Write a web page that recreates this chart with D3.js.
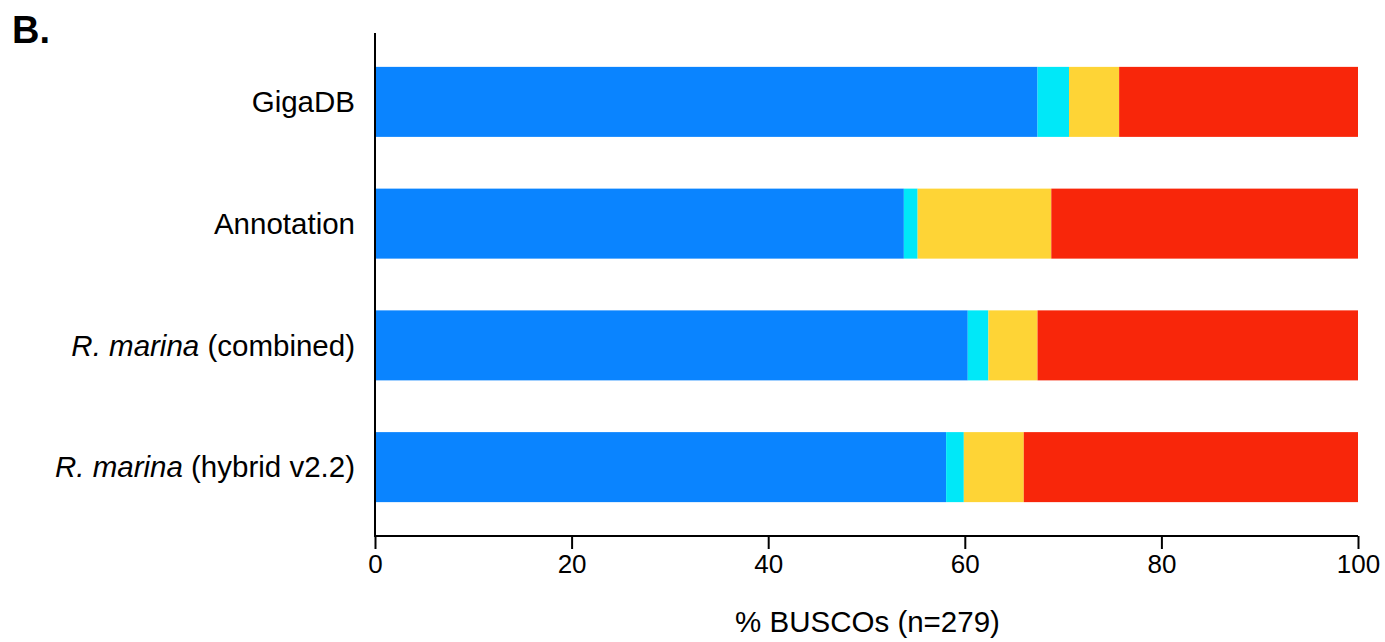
<!DOCTYPE html>
<html>
<head>
<meta charset="utf-8">
<script src="https://cdn.jsdelivr.net/npm/d3@7"></script>
<style>
  body { margin: 0; background: #fff; }
  svg text { font-family: "Liberation Sans", Arial, Helvetica, sans-serif; fill: #000; }
</style>
</head>
<body>
<div id="chart-area"></div>
<script>
// categories top to bottom; species name part is italic
const categories = ["GigaDB", "Annotation", "R. marina (combined)", "R. marina (hybrid v2.2)"];
const labelItalic = ["", "", "R. marina", "R. marina"];
const labelRest = ["GigaDB", "Annotation", " (combined)", " (hybrid v2.2)"];

// BUSCO percentages (n=279)
const completeSingle = [67.4, 53.8, 60.3, 58.1];
const completeDuplicated = [3.2, 1.4, 2.1, 1.8];
const fragmented = [5.1, 13.6, 5.0, 6.1];
const missing = [24.3, 31.2, 32.6, 34.0];

const seriesNames = ["single", "duplicated", "fragmented", "missing"];
const seriesColors = ["#0a84ff", "#00e8f8", "#fed436", "#f8260a"];
const xTicks = [0, 20, 40, 60, 80, 100];

const drawChart = () => {
  const chartSize = { width: 1385, height: 642 };
  const margin = { left: 375, right: 27, top: 33, bottom: 106 };
  const width = chartSize.width - margin.left - margin.right;
  const height = chartSize.height - margin.top - margin.bottom;

  const svg = d3.select("#chart-area")
    .append("svg")
    .attr("width", chartSize.width)
    .attr("height", chartSize.height);

  svg.append("text")
    .text("B.")
    .attr("x", 12)
    .attr("y", 43)
    .attr("font-size", 38)
    .attr("font-weight", "bold");

  const g = svg.append("g")
    .attr("transform", `translate(${margin.left}, ${margin.top})`);

  const x = d3.scaleLinear().domain([0, 100]).range([0, width]);
  const y = d3.scaleBand()
    .domain(categories)
    .range([8, 495])
    .paddingInner(0.425)
    .paddingOuter(0.2125);

  const table = categories.map((c, i) => ({
    name: c,
    single: completeSingle[i],
    duplicated: completeDuplicated[i],
    fragmented: fragmented[i],
    missing: missing[i],
  }));
  const stacked = d3.stack().keys(seriesNames)(table);

  g.selectAll(".series")
    .data(stacked)
    .enter()
    .append("g")
    .attr("class", "series")
    .attr("fill", (d, i) => seriesColors[i])
    .selectAll("rect")
    .data(d => d)
    .enter()
    .append("rect")
    .attr("x", d => x(d[0]))
    .attr("y", d => y(d.data.name))
    .attr("width", d => x(d[1]) - x(d[0]))
    .attr("height", y.bandwidth());

  // x axis
  const xAxis = d3.axisBottom(x)
    .tickValues(xTicks)
    .tickSize(13)
    .tickPadding(6)
    .tickSizeOuter(0);
  const xg = g.append("g")
    .attr("transform", `translate(0, ${height})`)
    .call(xAxis);
  xg.select(".domain").attr("stroke-width", 2).attr("d", `M0,0H${width}`);
  xg.selectAll(".tick line").attr("stroke-width", 2);
  xg.selectAll(".tick text").attr("font-size", 26).attr("dy", "0.71em");

  // y axis line
  g.append("line")
    .attr("x1", 0).attr("x2", 0)
    .attr("y1", 0).attr("y2", height + 1)
    .attr("stroke", "#000")
    .attr("stroke-width", 2);

  // category labels
  const labels = g.selectAll(".cat-label")
    .data(categories)
    .enter()
    .append("text")
    .attr("class", "cat-label")
    .attr("x", -20)
    .attr("y", d => y(d) + y.bandwidth() / 2)
    .attr("dy", "0.35em")
    .attr("text-anchor", "end")
    .attr("font-size", 29.5);
  labels.append("tspan")
    .attr("font-style", "italic")
    .text((d, i) => labelItalic[i]);
  labels.append("tspan")
    .text((d, i) => labelRest[i]);

  g.append("text")
    .text("% BUSCOs (n=279)")
    .attr("x", width / 2 + 1)
    .attr("y", height + 96)
    .attr("text-anchor", "middle")
    .attr("font-size", 29.5);
};

window.onload = drawChart;
</script>
</body>
</html>
